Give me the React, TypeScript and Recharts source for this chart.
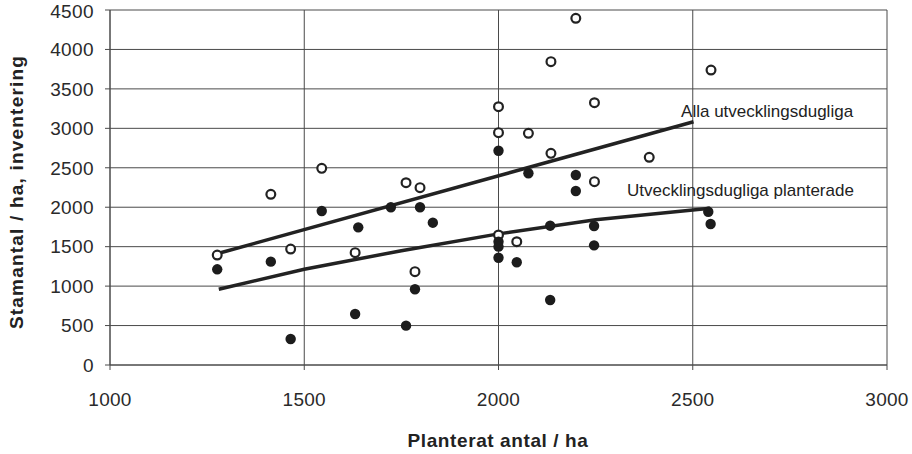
import {
  CartesianGrid,
  Label,
  ReferenceDot,
  Scatter,
  ScatterChart,
  XAxis,
  YAxis
} from "recharts";

// Planted stems per ha vs. inventoried stems per ha
const allaPoints = [
  { x: 1276, y: 1394 }, { x: 1414, y: 2164 }, { x: 1465, y: 1470 }, { x: 1545, y: 2493 },
  { x: 1631, y: 1424 }, { x: 1762, y: 2311 }, { x: 1785, y: 1183 }, { x: 1798, y: 2248 },
  { x: 2000, y: 3274 }, { x: 2000, y: 2945 }, { x: 2000, y: 1648 }, { x: 2047, y: 1563 },
  { x: 2077, y: 2937 }, { x: 2135, y: 3845 }, { x: 2135, y: 2683 }, { x: 2199, y: 4395 },
  { x: 2247, y: 3325 }, { x: 2247, y: 2324 }, { x: 2388, y: 2633 }, { x: 2547, y: 3739 }
];

const planteradePoints = [
  { x: 1276, y: 1213 }, { x: 1414, y: 1310 }, { x: 1465, y: 330 }, { x: 1545, y: 1952 },
  { x: 1631, y: 647 }, { x: 1639, y: 1745 }, { x: 1723, y: 1999 }, { x: 1762, y: 499 },
  { x: 1785, y: 960 }, { x: 1798, y: 1999 }, { x: 1831, y: 1804 }, { x: 2000, y: 2716 },
  { x: 2000, y: 1563 }, { x: 2000, y: 1500 }, { x: 2000, y: 1360 }, { x: 2047, y: 1302 },
  { x: 2077, y: 2430 }, { x: 2133, y: 1766 }, { x: 2133, y: 824 }, { x: 2199, y: 2408 },
  { x: 2199, y: 2205 }, { x: 2246, y: 1762 }, { x: 2246, y: 1517 }, { x: 2540, y: 1943 },
  { x: 2546, y: 1787 }
];

// trend lines
const allaTrend = [
  { x: 1280, y: 1416 },
  { x: 2502, y: 3084 }
];

const planteradeTrend = [
  { x: 1280, y: 960 },
  { x: 1500, y: 1213 },
  { x: 1750, y: 1449 },
  { x: 2000, y: 1662 },
  { x: 2250, y: 1840 },
  { x: 2545, y: 1986 }
];

const xTicks = [1000, 1500, 2000, 2500, 3000];
const yTicks = [0, 500, 1000, 1500, 2000, 2500, 3000, 3500, 4000, 4500];

const FONT = "'Liberation Sans', Arial, sans-serif";
const INK = "#222";

const OpenDot = (props: any) => (
  <circle cx={props.cx} cy={props.cy} r={4.4} fill="#fff" stroke={INK} strokeWidth={2.2} />
);

const FilledDot = (props: any) => (
  <circle cx={props.cx} cy={props.cy} r={5.2} fill="#1c1c1c" />
);

const NoDot = () => <g />;

const noteLabel = (text: string) => (props: any) => (
  <text
    x={props.viewBox.x}
    y={props.viewBox.y}
    fontFamily={FONT}
    fontSize={17}
    fill={INK}
    textAnchor="start"
  >
    {text}
  </text>
);

export default function App() {
  return (
    <div style={{ position: "absolute", left: 0, top: 0, background: "#fff" }}>
      <ScatterChart
        width={912}
        height={454}
        margin={{ top: 10, right: 25, bottom: 39, left: 50 }}
      >
        <CartesianGrid stroke="#4a4a4a" strokeWidth={1} />
        <XAxis
          type="number"
          dataKey="x"
          domain={[1000, 3000]}
          ticks={xTicks}
          stroke="#4a4a4a"
          tickSize={5}
          tickMargin={23}
          height={50}
          tick={{ fontFamily: FONT, fontSize: 19, fill: "#2a2a2a", letterSpacing: 0.3 }}
        >
          <Label
            content={() => (
              <text
                x={498}
                y={447}
                textAnchor="middle"
                fontFamily={FONT}
                fontWeight="bold"
                fontSize={19}
                letterSpacing={0.6}
                fill={INK}
              >
                Planterat antal / ha
              </text>
            )}
          />
        </XAxis>
        <YAxis
          type="number"
          dataKey="y"
          domain={[0, 4500]}
          ticks={yTicks}
          stroke="#4a4a4a"
          tickSize={5}
          tickMargin={11}
          width={60}
          tick={{ fontFamily: FONT, fontSize: 19, fill: "#2a2a2a", letterSpacing: 0.4 }}
        >
          <Label
            content={() => (
              <text
                x={23}
                y={192}
                transform="rotate(-90 23 192)"
                textAnchor="middle"
                fontFamily={FONT}
                fontWeight="bold"
                fontSize={19}
                letterSpacing={1.2}
                fill={INK}
              >
                Stamantal / ha, inventering
              </text>
            )}
          />
        </YAxis>
        <Scatter
          data={allaTrend}
          line={{ stroke: INK, strokeWidth: 3.5 }}
          shape={NoDot}
          isAnimationActive={false}
        />
        <Scatter
          data={planteradeTrend}
          line={{ stroke: INK, strokeWidth: 3.5 }}
          shape={NoDot}
          isAnimationActive={false}
        />
        <Scatter data={allaPoints} shape={OpenDot} isAnimationActive={false} />
        <Scatter data={planteradePoints} shape={FilledDot} isAnimationActive={false} />
        <ReferenceDot
          x={2470}
          y={3144}
          r={0}
          stroke="none"
          label={noteLabel("Alla utvecklingsdugliga")}
        />
        <ReferenceDot
          x={2331}
          y={2142}
          r={0}
          stroke="none"
          label={noteLabel("Utvecklingsdugliga planterade")}
        />
      </ScatterChart>
    </div>
  );
}
